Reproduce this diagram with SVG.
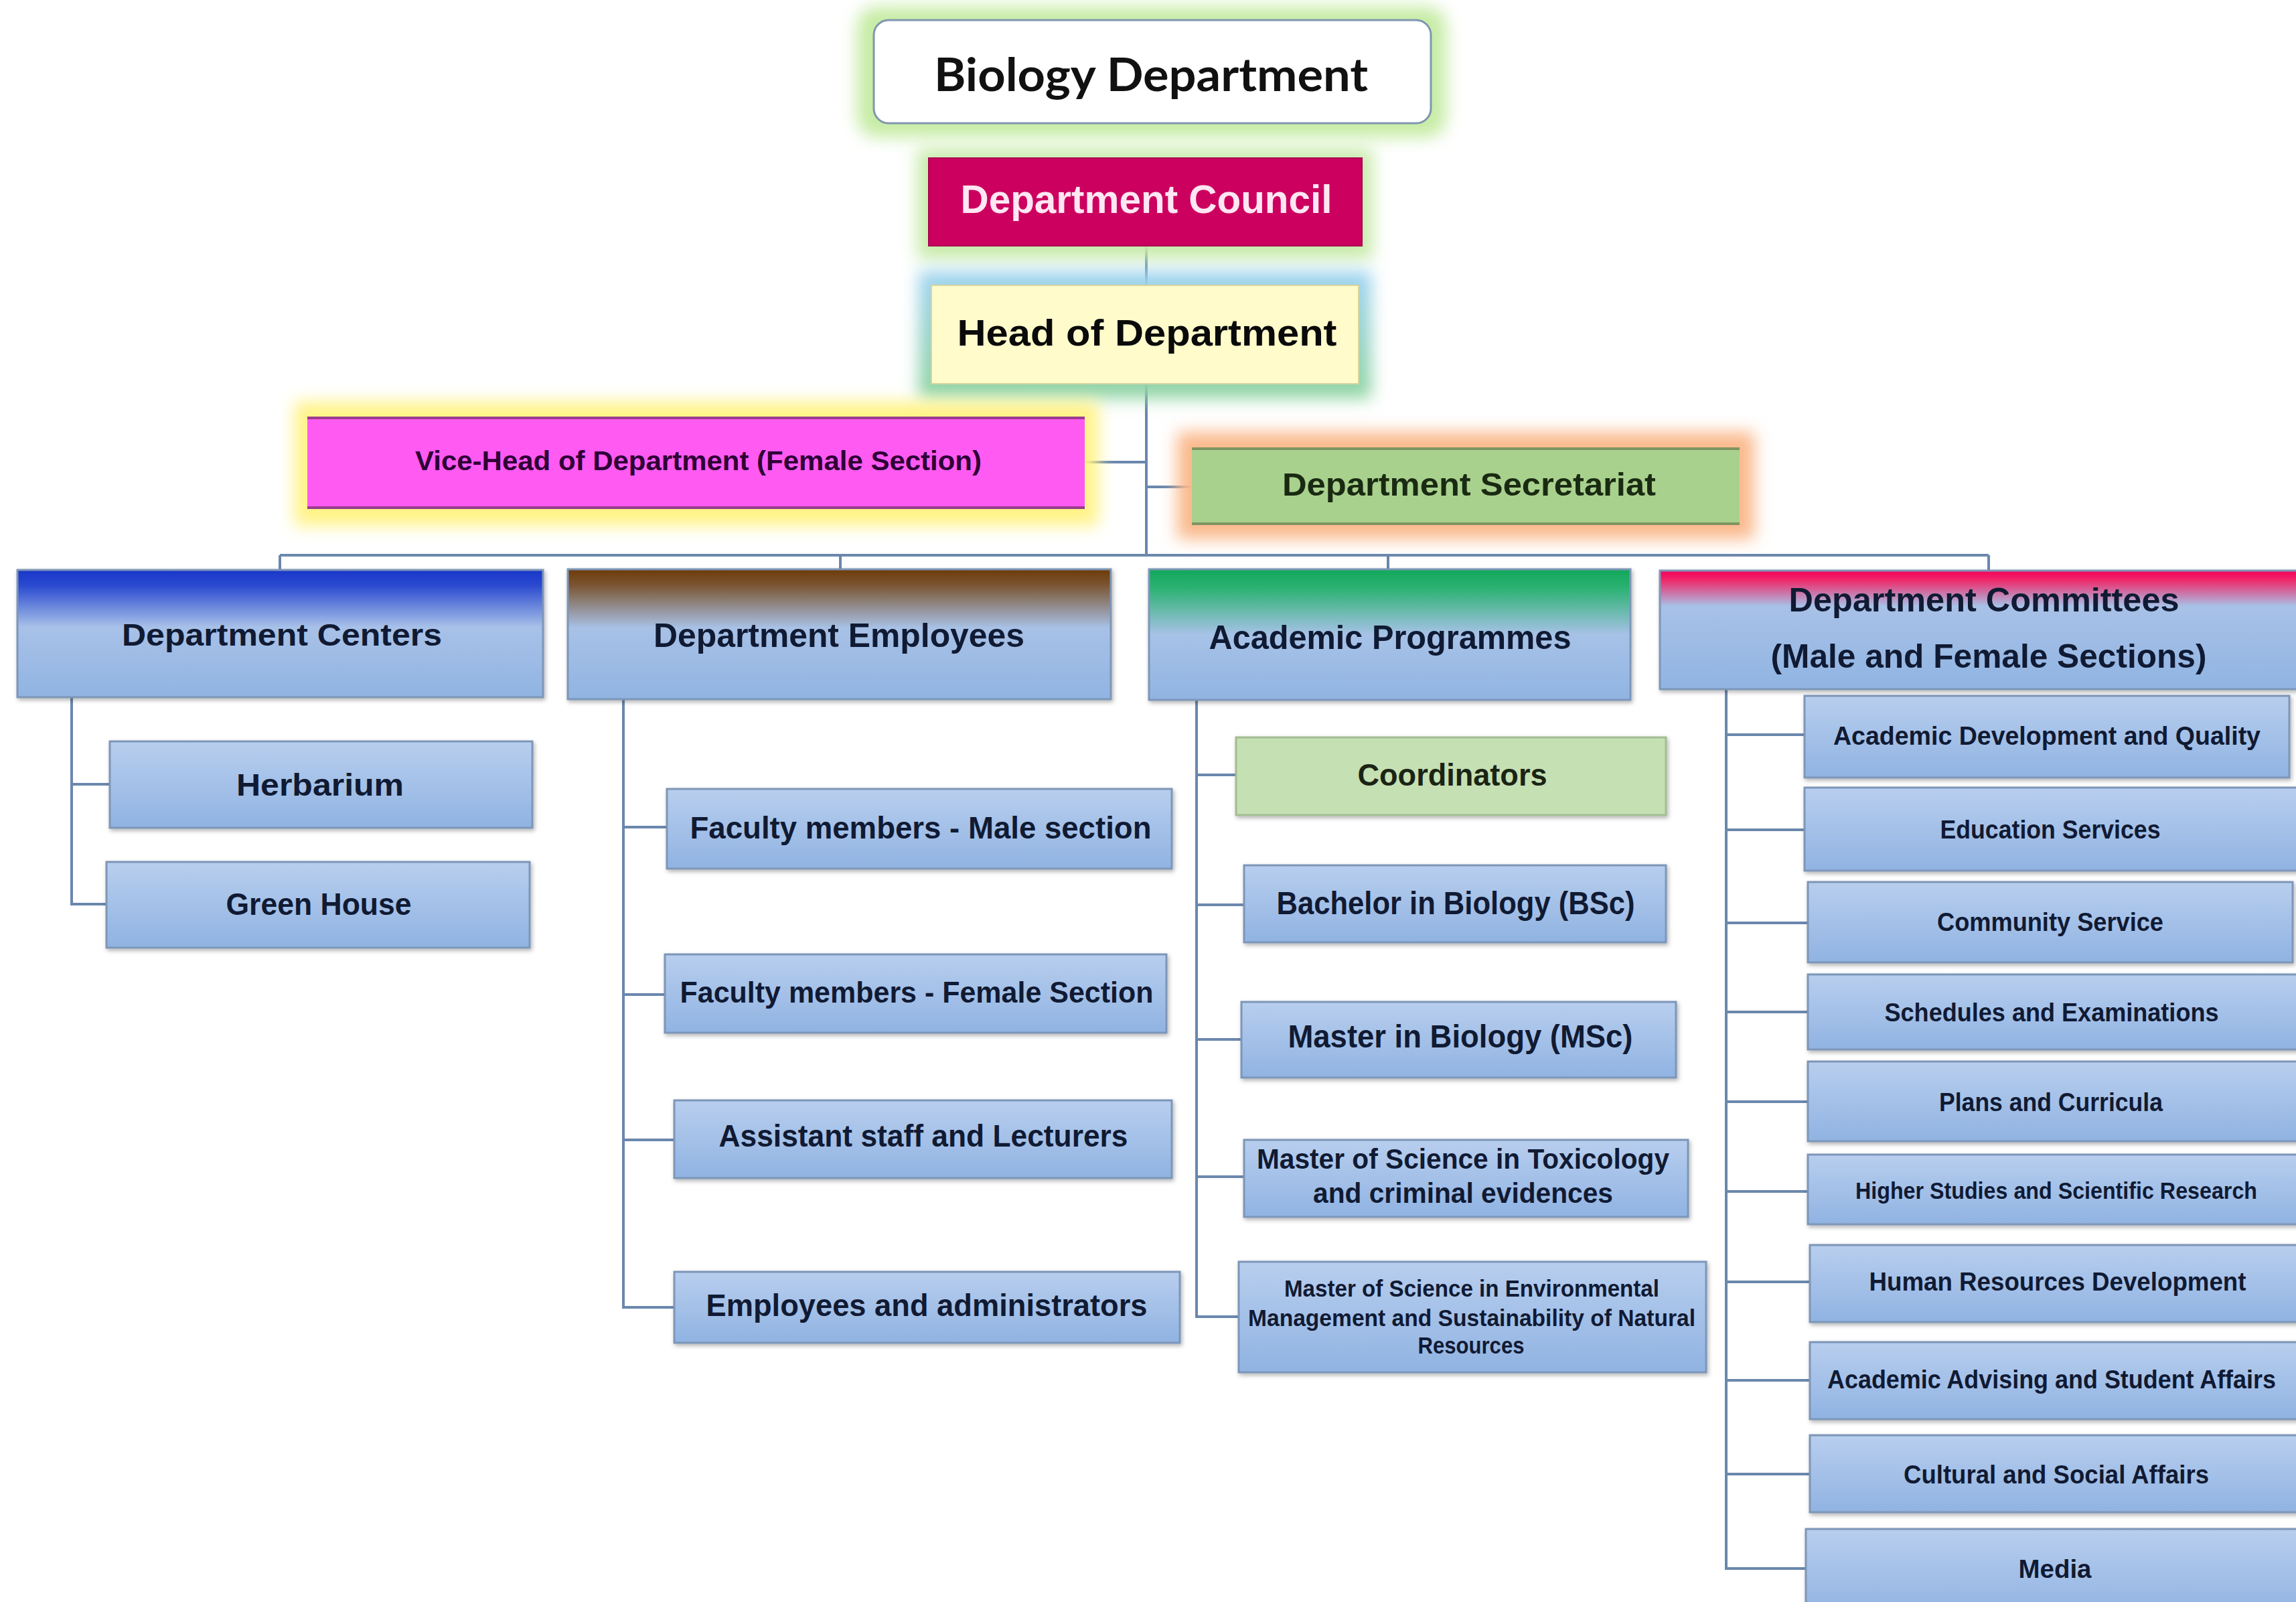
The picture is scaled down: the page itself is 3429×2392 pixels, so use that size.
<svg xmlns="http://www.w3.org/2000/svg" width="3429" height="2392" viewBox="0 0 3429 2392">
<style>
.conn{stroke:#6A87AD;stroke-width:4;fill:none}
.box{fill:url(#gBlue);stroke:#7D96B8;stroke-width:3;filter:url(#shadow)}
.t{font-family:"Liberation Sans",Arial,sans-serif;font-weight:bold;fill:#101A33;text-anchor:middle}
.glow{filter:url(#blur)}
</style>
<defs>
<linearGradient id="gBlue" x1="0" y1="0" x2="0" y2="1">
<stop offset="0" stop-color="#B8CEEE"/><stop offset="1" stop-color="#90B3E2"/>
</linearGradient>
<linearGradient id="gCenters" x1="0" y1="0" x2="0" y2="1">
<stop offset="0" stop-color="#1A36C8"/><stop offset="0.12" stop-color="#2A4AD0"/><stop offset="0.45" stop-color="#A8C1E8"/><stop offset="1" stop-color="#90B4E2"/>
</linearGradient>
<linearGradient id="gEmployees" x1="0" y1="0" x2="0" y2="1">
<stop offset="0" stop-color="#6E3A08"/><stop offset="0.12" stop-color="#7A5532"/><stop offset="0.45" stop-color="#A8C1E6"/><stop offset="1" stop-color="#90B4E2"/>
</linearGradient>
<linearGradient id="gAcademic" x1="0" y1="0" x2="0" y2="1">
<stop offset="0" stop-color="#12A85A"/><stop offset="0.15" stop-color="#2DB274"/><stop offset="0.5" stop-color="#A7C2E7"/><stop offset="1" stop-color="#90B4E2"/>
</linearGradient>
<linearGradient id="gCommittees" x1="0" y1="0" x2="0" y2="1">
<stop offset="0" stop-color="#F5005A"/><stop offset="0.08" stop-color="#EE2A6A"/><stop offset="0.3" stop-color="#A8C1E7"/><stop offset="1" stop-color="#90B4E2"/>
</linearGradient>
<linearGradient id="gHeadGlow" x1="0" y1="0" x2="0" y2="1">
<stop offset="0" stop-color="#9ED3F2"/><stop offset="1" stop-color="#8FD4A0"/>
</linearGradient>
<filter id="blur" x="-20%" y="-50%" width="140%" height="200%"><feGaussianBlur stdDeviation="12"/></filter>
<filter id="shadow" x="-5%" y="-10%" width="110%" height="130%">
<feDropShadow dx="2" dy="3" stdDeviation="3" flood-color="#000" flood-opacity="0.3"/>
</filter>
</defs>
<rect width="3429" height="2392" fill="#FFFFFF"/>

<g id="connectors">
<line class="conn" x1="1712" y1="367" x2="1712" y2="829"/>
<line class="conn" x1="1620" y1="690" x2="1712" y2="690"/>
<line class="conn" x1="1712" y1="727" x2="1782" y2="727"/>
<line class="conn" x1="418" y1="829" x2="2970" y2="829"/>
<line class="conn" x1="418" y1="829" x2="418" y2="852"/>
<line class="conn" x1="1255" y1="829" x2="1255" y2="852"/>
<line class="conn" x1="2073" y1="829" x2="2073" y2="852"/>
<line class="conn" x1="2970" y1="829" x2="2970" y2="853"/>
<path class="conn" d="M107 1041V1350H159M107 1171H164"/>
<path class="conn" d="M931 1044V1952H1007M931 1235H996M931 1485H993M931 1702H1007"/>
<path class="conn" d="M1787 1045V1966H1850M1787 1157H1846M1787 1351H1858M1787 1552H1854M1787 1757H1858"/>
<path class="conn" d="M2578 1029V2342H2697M2578 1097H2695M2578 1239H2695M2578 1378H2700M2578 1511H2700M2578 1645H2700M2578 1779H2700M2578 1914H2703M2578 2061H2703M2578 2201H2703"/>
</g>

<g id="biology-department">
<rect class="glow" x="1280" y="10" width="880" height="195" rx="30" fill="#C6ECA4"/>
<rect x="1305" y="30" width="832" height="154" rx="22" fill="#FFFFFF" stroke="#8096B0" stroke-width="3"/>
<text x="1719" y="136" font-family="Lato,'Open Sans',sans-serif" font-weight="bold" font-size="68" fill="#111" text-anchor="middle" textLength="648" lengthAdjust="spacingAndGlyphs">Biology Department</text>
</g>

<g id="department-council">
<rect class="glow" x="1370" y="222" width="680" height="165" fill="#C8EBAA"/>
<rect x="1387" y="236" width="647" height="131" fill="#CC005F" stroke="#A80050" stroke-width="2"/>
<text x="1712" y="318" font-family="'Liberation Sans',Arial,sans-serif" font-weight="bold" font-size="59" fill="#FFE6F3" text-anchor="middle" textLength="555" lengthAdjust="spacingAndGlyphs">Department Council</text>
</g>

<g id="head-of-department">
<rect class="glow" x="1372" y="405" width="676" height="190" fill="url(#gHeadGlow)"/>
<rect x="1391" y="426" width="638" height="147" fill="#FFFBCB" stroke="#D8D4A0" stroke-width="2"/>
<text x="1713" y="516" font-family="'Liberation Sans',Arial,sans-serif" font-weight="bold" font-size="56" fill="#0A0A0A" text-anchor="middle" textLength="567" lengthAdjust="spacingAndGlyphs">Head of Department</text>
</g>

<g id="vice-head">
<rect class="glow" x="440" y="600" width="1200" height="185" fill="#FFF385"/>
<rect x="459" y="623" width="1161" height="136" fill="#FF5AF2"/>
<line x1="459" y1="624" x2="1620" y2="624" stroke="#9A3C8E" stroke-width="4"/>
<line x1="459" y1="758" x2="1620" y2="758" stroke="#9A3C8E" stroke-width="4"/>
<text x="1043" y="702" font-family="'Liberation Sans',Arial,sans-serif" font-weight="bold" font-size="41" fill="#2E0036" text-anchor="middle" textLength="846" lengthAdjust="spacingAndGlyphs">Vice-Head of Department (Female Section)</text>
</g>

<g id="department-secretariat">
<rect class="glow" x="1758" y="645" width="862" height="160" fill="#FAB98C"/>
<rect x="1780" y="669" width="818" height="114" fill="#A9D18E"/>
<line x1="1780" y1="670" x2="2598" y2="670" stroke="#7F9560" stroke-width="4"/>
<line x1="1780" y1="782" x2="2598" y2="782" stroke="#7F9560" stroke-width="4"/>
<text x="2194" y="740" font-family="'Liberation Sans',Arial,sans-serif" font-weight="bold" font-size="48" fill="#1A2A12" text-anchor="middle" textLength="558" lengthAdjust="spacingAndGlyphs">Department Secretariat</text>
</g>

<g id="department-centers">
<rect class="box" x="26" y="851" width="785" height="190" style="fill:url(#gCenters)"/>
<text class="t" x="421" y="964" font-size="46" textLength="478" lengthAdjust="spacingAndGlyphs">Department Centers</text>
</g>
<g id="herbarium">
<rect class="box" x="164" y="1107" width="631" height="129"/>
<text class="t" x="478" y="1188" font-size="46" textLength="250" lengthAdjust="spacingAndGlyphs">Herbarium</text>
</g>
<g id="green-house">
<rect class="box" x="159" y="1287" width="632" height="128"/>
<text class="t" x="476" y="1366" font-size="46" textLength="277" lengthAdjust="spacingAndGlyphs">Green House</text>
</g>

<g id="department-employees">
<rect class="box" x="848" y="850" width="811" height="194" style="fill:url(#gEmployees)"/>
<text class="t" x="1253" y="966" font-size="50" textLength="554" lengthAdjust="spacingAndGlyphs">Department Employees</text>
</g>
<g id="faculty-male">
<rect class="box" x="996" y="1178" width="754" height="119"/>
<text class="t" x="1375" y="1252" font-size="47" textLength="689" lengthAdjust="spacingAndGlyphs">Faculty members - Male section</text>
</g>
<g id="faculty-female">
<rect class="box" x="993" y="1425" width="749" height="117"/>
<text class="t" x="1369" y="1497" font-size="44" textLength="707" lengthAdjust="spacingAndGlyphs">Faculty members - Female Section</text>
</g>
<g id="assistant-staff">
<rect class="box" x="1007" y="1643" width="743" height="116"/>
<text class="t" x="1379" y="1712" font-size="46" textLength="611" lengthAdjust="spacingAndGlyphs">Assistant staff and Lecturers</text>
</g>
<g id="employees-admins">
<rect class="box" x="1007" y="1899" width="755" height="106"/>
<text class="t" x="1384" y="1965" font-size="47" textLength="659" lengthAdjust="spacingAndGlyphs">Employees and administrators</text>
</g>

<g id="academic-programmes">
<rect class="box" x="1716" y="850" width="719" height="195" style="fill:url(#gAcademic)"/>
<text class="t" x="2076" y="969" font-size="50" textLength="541" lengthAdjust="spacingAndGlyphs">Academic Programmes</text>
</g>
<g id="coordinators">
<rect x="1846" y="1101" width="642" height="116" fill="#C5E0B3" stroke="#A3BC92" stroke-width="3" filter="url(#shadow)"/>
<text class="t" x="2169" y="1173" font-size="47" textLength="283" lengthAdjust="spacingAndGlyphs" style="fill:#1A2414">Coordinators</text>
</g>
<g id="bachelor">
<rect class="box" x="1858" y="1292" width="630" height="115"/>
<text class="t" x="2174" y="1365" font-size="49" textLength="535" lengthAdjust="spacingAndGlyphs">Bachelor in Biology (BSc)</text>
</g>
<g id="master-msc">
<rect class="box" x="1854" y="1496" width="649" height="113"/>
<text class="t" x="2181" y="1564" font-size="49" textLength="515" lengthAdjust="spacingAndGlyphs">Master in Biology (MSc)</text>
</g>
<g id="master-toxicology">
<rect class="box" x="1858" y="1702" width="663" height="115"/>
<text class="t" x="2185" y="1745" font-size="42" textLength="616" lengthAdjust="spacingAndGlyphs">Master of Science in Toxicology</text>
<text class="t" x="2185" y="1796" font-size="42" textLength="448" lengthAdjust="spacingAndGlyphs">and criminal evidences</text>
</g>
<g id="master-environmental">
<rect class="box" x="1850" y="1884" width="698" height="165"/>
<text class="t" x="2198" y="1936" font-size="35" textLength="560" lengthAdjust="spacingAndGlyphs">Master of Science in Environmental</text>
<text class="t" x="2198" y="1980" font-size="35" textLength="668" lengthAdjust="spacingAndGlyphs">Management and Sustainability of Natural</text>
<text class="t" x="2197" y="2021" font-size="35" textLength="159" lengthAdjust="spacingAndGlyphs">Resources</text>
</g>

<g id="department-committees">
<rect class="box" x="2479" y="852" width="970" height="177" style="fill:url(#gCommittees)"/>
<text class="t" x="2963" y="913" font-size="50" textLength="583" lengthAdjust="spacingAndGlyphs">Department Committees</text>
<text class="t" x="2970" y="997" font-size="50" textLength="651" lengthAdjust="spacingAndGlyphs">(Male and Female Sections)</text>
</g>
<g id="academic-development">
<rect class="box" x="2695" y="1039" width="724" height="122"/>
<text class="t" x="3057" y="1112" font-size="39" textLength="638" lengthAdjust="spacingAndGlyphs">Academic Development and Quality</text>
</g>
<g id="education-services">
<rect class="box" x="2695" y="1176" width="740" height="124"/>
<text class="t" x="3062" y="1252" font-size="39" textLength="329" lengthAdjust="spacingAndGlyphs">Education Services</text>
</g>
<g id="community-service">
<rect class="box" x="2700" y="1317" width="724" height="120"/>
<text class="t" x="3062" y="1390" font-size="39" textLength="338" lengthAdjust="spacingAndGlyphs">Community Service</text>
</g>
<g id="schedules-examinations">
<rect class="box" x="2700" y="1455" width="740" height="112"/>
<text class="t" x="3064" y="1525" font-size="39" textLength="499" lengthAdjust="spacingAndGlyphs">Schedules and Examinations</text>
</g>
<g id="plans-curricula">
<rect class="box" x="2700" y="1585" width="740" height="119"/>
<text class="t" x="3063" y="1659" font-size="39" textLength="334" lengthAdjust="spacingAndGlyphs">Plans and Curricula</text>
</g>
<g id="higher-studies">
<rect class="box" x="2700" y="1724" width="740" height="104"/>
<text class="t" x="3071" y="1790" font-size="35" textLength="600" lengthAdjust="spacingAndGlyphs">Higher Studies and Scientific Research</text>
</g>
<g id="human-resources">
<rect class="box" x="2703" y="1859" width="740" height="115"/>
<text class="t" x="3073" y="1927" font-size="38" textLength="563" lengthAdjust="spacingAndGlyphs">Human Resources Development</text>
</g>
<g id="academic-advising">
<rect class="box" x="2703" y="2004" width="740" height="115"/>
<text class="t" x="3064" y="2073" font-size="39" textLength="670" lengthAdjust="spacingAndGlyphs">Academic Advising and Student Affairs</text>
</g>
<g id="cultural-social">
<rect class="box" x="2703" y="2143" width="740" height="115"/>
<text class="t" x="3071" y="2215" font-size="39" textLength="456" lengthAdjust="spacingAndGlyphs">Cultural and Social Affairs</text>
</g>
<g id="media">
<rect class="box" x="2697" y="2283" width="740" height="130"/>
<text class="t" x="3069" y="2356" font-size="39" textLength="109" lengthAdjust="spacingAndGlyphs">Media</text>
</g>
</svg>
